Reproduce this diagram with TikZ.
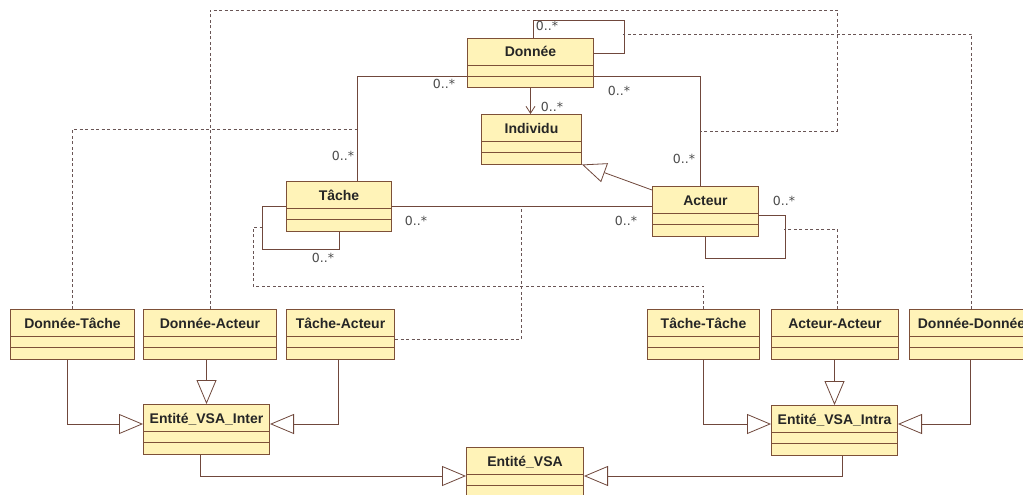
\documentclass[tikz,border=0pt]{standalone}
\usepackage{fontspec}
\setmainfont{Liberation Sans}
\newfontfamily\multfont{DejaVu Sans}
\usetikzlibrary{arrows.meta}
\definecolor{fondclasse}{RGB}{255,243,184}
\definecolor{bordclasse}{RGB}{125,80,56}
\definecolor{trait}{RGB}{112,72,60}
\definecolor{pointille}{RGB}{105,85,85}
\definecolor{gristexte}{RGB}{75,75,75}
\begin{document}
\begin{tikzpicture}[x=1pt,y=-1pt,
    classe/.style={draw=bordclasse,line width=1pt,fill=fondclasse,anchor=north west,
      inner sep=0pt,minimum height=49.5pt,text height=18.5pt,text depth=31pt,
      font=\fontsize{14}{16}\selectfont\bfseries,text=black!85,
      path picture={
        \draw[bordclasse,line width=1pt] ([yshift=-27pt]path picture bounding box.north west) -- ([yshift=-27pt]path picture bounding box.north east);
        \draw[bordclasse,line width=1pt] ([yshift=-38pt]path picture bounding box.north west) -- ([yshift=-38pt]path picture bounding box.north east);}},
    assoc/.style={draw=trait,line width=0.8pt},
    lien/.style={draw=pointille,line width=0.8pt,dash pattern=on 3pt off 2.5pt},
    herite/.style={assoc,-{Triangle[open,length=24pt,width=20pt]}},
    mult/.style={text=gristexte,font=\multfont\fontsize{12.5}{14}\selectfont,inner sep=0pt}]
            \useasboundingbox (0,0) rectangle (1023,495);
            \fill[white] (0,0) rectangle (1023,495);
            % classes du haut
            \node[classe,minimum width=126pt] (donnee) at (467,38) {Donnée};
            \node[classe,minimum width=100pt] (individu) at (481,114) {Individu};
            \node[classe,minimum width=105pt] (tache) at (286,181) {Tâche};
            \node[classe,minimum width=106pt] (acteur) at (652,186) {Acteur};
            % classes d'association
            \node[classe,minimum width=124pt] (dt) at (10,309) {Donnée-Tâche};
            \node[classe,minimum width=133pt] (da) at (143,309) {Donnée-Acteur};
            \node[classe,minimum width=108pt] (ta) at (286,309) {Tâche-Acteur};
            \node[classe,minimum width=112pt] (tt) at (647,309) {Tâche-Tâche};
            \node[classe,minimum width=127pt] (aa) at (771,309) {Acteur-Acteur};
            \node[classe,minimum width=124pt] (dd) at (909,309) {Donnée-Donnée};
            \node[classe,minimum width=126pt] (inter) at (143,404) {Entité\_VSA\_Inter};
            \node[classe,minimum width=126pt] (intra) at (771,405) {Entité\_VSA\_Intra};
            \node[classe,minimum width=117pt] (vsa) at (466,447) {Entité\_VSA};
            % associations
            \draw[assoc] ([yshift=-38pt]donnee.north west) -| ([xshift=18.5pt]tache.north);
            \draw[assoc] ([yshift=-38pt]donnee.north east) -| ([xshift=-5pt]acteur.north);
            \draw[assoc,-{Straight Barb[length=7pt,width=9pt]}] (donnee.south) -- (donnee.south |- individu.north);
            \draw[assoc] ([xshift=3pt]donnee.north) -- ++(0,-18) -| ([xshift=30pt,yshift=-15pt]donnee.north east) -- ([yshift=-15pt]donnee.north east);
            \draw[herite] ([yshift=-4pt]acteur.north west) -- (individu.south east);
            \coordinate (pta) at ([yshift=-25pt]tache.north east);
            \draw[assoc] (pta) -- (pta -| acteur.west);
            \draw[assoc] ([yshift=-25pt]tache.north west) -- ++(-24,0) |- ([yshift=-18pt]tache.south) -- (tache.south);
            \draw[assoc] ([yshift=-29pt]acteur.north east) -- ++(26,0) |- ([yshift=-22pt]acteur.south) -- (acteur.south);
            % liens en pointilles
            \coordinate (jdt) at (357,129);
            \coordinate (cda) at (837,10);
            \coordinate (jda) at (700,131);
            \coordinate (jdd) at (623,34);
            \coordinate (jta) at (521,206);
            \coordinate (ctt) at (253,286);
            \coordinate (jtt) at (262,227);
            \coordinate (jaa) at (784,229);
            \draw[lien] (dt.north) |- (jdt);
            \draw[lien] (da.north) |- (cda) |- (jda);
            \draw[lien] (dd.north) |- (jdd);
            \draw[lien] ([yshift=-30pt]ta.north east) -| (jta);
            \draw[lien] (tt.north) |- (ctt) |- (jtt);
            \draw[lien] ([xshift=2.5pt]aa.north) |- (jaa);
            % heritage
            \draw[herite] ([xshift=-5pt]dt.south) |- ([yshift=-20pt]inter.north west);
            \draw[herite] (inter.north |- da.south) -- (inter.north);
            \draw[herite] ([xshift=-2pt]ta.south) |- ([yshift=-20pt]inter.north east);
            \draw[herite] (tt.south) |- ([yshift=-19pt]intra.north west);
            \draw[herite] (intra.north |- aa.south) -- (intra.north);
            \draw[herite] ([xshift=-1pt]dd.south) |- ([yshift=-19pt]intra.north east);
            \draw[herite] ([xshift=-6pt]inter.south) |- ([yshift=-29pt]vsa.north west);
            \draw[herite] ([xshift=8pt]intra.south) |- ([yshift=-29pt]vsa.north east);
            % multiplicites
            \node[mult] (m1) at (444,84) {0..*};
            \node[mult] (m2) at (343,156) {0..*};
            \node[mult] (m3) at (619,91) {0..*};
            \node[mult] (m4) at (684,159) {0..*};
            \node[mult] (m5) at (552,107) {0..*};
            \node[mult] (m6) at (547,26) {0..*};
            \node[mult] (m7) at (416,221) {0..*};
            \node[mult] (m8) at (626,221) {0..*};
            \node[mult] (m9) at (323,258) {0..*};
            \node[mult] (m10) at (784,201) {0..*};
\end{tikzpicture}
\end{document}
